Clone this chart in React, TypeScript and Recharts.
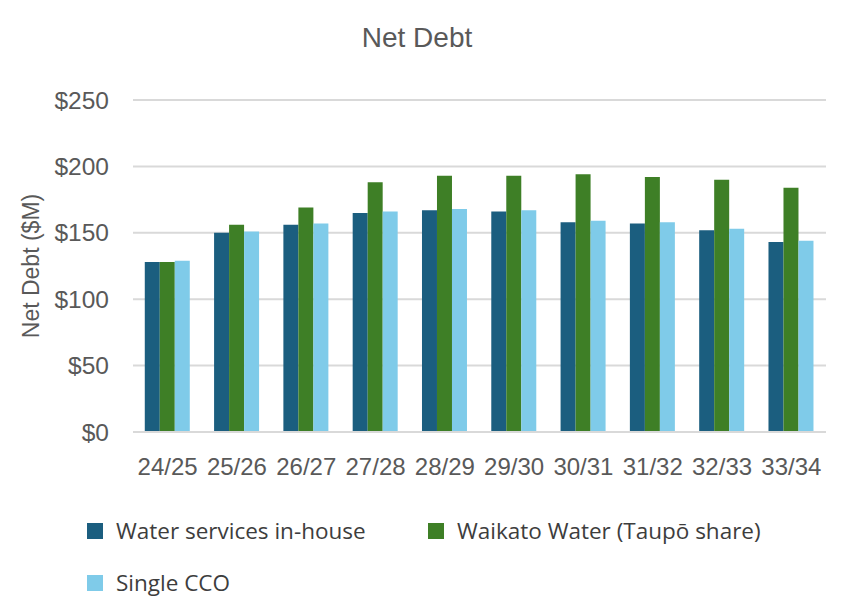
import { BarChart, Bar, XAxis, YAxis, CartesianGrid, Label } from 'recharts';

const years = ['24/25', '25/26', '26/27', '27/28', '28/29', '29/30', '30/31', '31/32', '32/33', '33/34'];
const inHouse = [128, 150, 156, 165, 167, 166, 158, 157, 152, 143];
const waikato = [128, 156, 169, 188, 193, 193, 194, 192, 190, 184];
const singleCco = [129, 151, 157, 166, 168, 167, 159, 158, 153, 144];
const yTicks = [0, 50, 100, 150, 200, 250];

const seriesNames = ['Water services in-house', 'Waikato Water (Taupō share)', 'Single CCO'];
const colors = ['#1b5e7f', '#3e7f26', '#7fcbe9'];

const data = years.map((year, i) => ({
  year,
  inHouse: inHouse[i],
  waikato: waikato[i],
  singleCco: singleCco[i],
}));

const axisFont = '"Liberation Sans", Arial, sans-serif';
const legendFont = '"Open Sans", sans-serif';
const textColor = '#595959';

const LegendItem = ({ name, color, left, top }: { name: string; color: string; left: number; top: number }) => (
  <div style={{ position: 'absolute', left, top, display: 'flex', alignItems: 'center' }}>
    <div style={{ width: 16, height: 16, background: color, marginRight: 13 }} />
    <span style={{ fontSize: 22.5, color: '#3d3d3d', fontFamily: legendFont, whiteSpace: 'nowrap' }}>{name}</span>
  </div>
);

const App = () => (
  <div style={{ position: 'absolute', left: 0, top: 0, width: 850, height: 615, background: '#fff' }}>
    <div
      style={{
        position: 'absolute',
        top: 22,
        left: 0,
        width: 834,
        textAlign: 'center',
        fontFamily: axisFont,
        fontSize: 28,
        color: textColor,
      }}
    >
      Net Debt
    </div>
    <BarChart
      width={850}
      height={615}
      data={data}
      margin={{ top: 100, right: 24, left: 0, bottom: 143 }}
      barCategoryGap="17%"
      barGap={0}
    >
      <CartesianGrid vertical={false} stroke="#d9d9d9" strokeWidth={2} />
      <XAxis
        dataKey="year"
        axisLine={{ stroke: '#d9d9d9', strokeWidth: 2 }}
        tickLine={false}
        height={40}
        tickMargin={20}
        interval={0}
        tick={{ fill: textColor, fontSize: 24, fontFamily: axisFont }}
      />
      <YAxis
        width={133}
        domain={[0, 250]}
        ticks={yTicks}
        axisLine={false}
        tickLine={false}
        tickMargin={18}
        tickFormatter={(v: number) => `$${v}`}
        tick={{ fill: textColor, fontSize: 24.5, fontFamily: axisFont }}
      >
        <Label
          value="Net Debt ($M)"
          angle={-90}
          position="insideLeft"
          offset={31}
          style={{ fill: textColor, fontSize: 23, fontFamily: axisFont, textAnchor: 'middle' }}
        />
      </YAxis>
      <Bar dataKey="inHouse" name={seriesNames[0]} fill={colors[0]} isAnimationActive={false} />
      <Bar dataKey="waikato" name={seriesNames[1]} fill={colors[1]} isAnimationActive={false} />
      <Bar dataKey="singleCco" name={seriesNames[2]} fill={colors[2]} isAnimationActive={false} />
    </BarChart>
    <LegendItem name={seriesNames[0]} color={colors[0]} left={87} top={515} />
    <LegendItem name={seriesNames[1]} color={colors[1]} left={428} top={515} />
    <LegendItem name={seriesNames[2]} color={colors[2]} left={87} top={567} />
  </div>
);

export default App;
